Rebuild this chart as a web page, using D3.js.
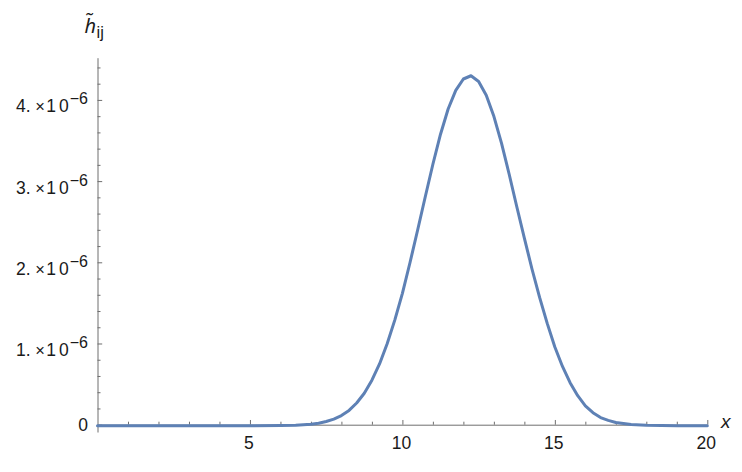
<!DOCTYPE html>
<html>
<head>
<meta charset="utf-8">
<script src="https://cdn.jsdelivr.net/npm/d3@7"></script>
<style>
  html, body { margin: 0; padding: 0; background: #fff; }
  svg { display: block; font-family: "Liberation Sans", Arial, Helvetica, sans-serif; }
</style>
</head>
<body>
<svg id="chart" width="742" height="472"></svg>
<script>
// ---- data (values in units of 1e-6) ----
const xValues = [0, 1, 2, 3, 4, 5, 6, 6.5, 7, 7.25, 7.5, 7.75, 8, 8.25, 8.5, 8.75, 9, 9.25, 9.5, 9.75,
  10, 10.25, 10.5, 10.75, 11, 11.25, 11.5, 11.75, 12, 12.25, 12.5, 12.75, 13, 13.25, 13.5, 13.75,
  14, 14.25, 14.5, 14.75, 15, 15.25, 15.5, 15.75, 16, 16.25, 16.5, 16.75, 17, 17.5, 18, 18.5, 19, 20];
const hValues = [0, 0, 0, 0, 0, 0, 0.002, 0.006, 0.019, 0.031, 0.051, 0.081, 0.125, 0.188, 0.28, 0.40, 0.56, 0.76, 1.01, 1.30,
  1.63, 2.01, 2.41, 2.82, 3.22, 3.59, 3.90, 4.13, 4.27, 4.31, 4.24, 4.07, 3.81, 3.48, 3.10, 2.70,
  2.31, 1.93, 1.58, 1.26, 0.97, 0.73, 0.53, 0.37, 0.245, 0.16, 0.10, 0.065, 0.04, 0.015, 0.005, 0.0015, 0, 0];

const xTickValues = [5, 10, 15, 20];
const xTickLabels = ["5", "10", "15", "20"];
const xMinorTicks = [1, 2, 3, 4, 6, 7, 8, 9, 11, 12, 13, 14, 16, 17, 18, 19];
const yTickValues = [0, 1, 2, 3, 4];
const yTickMantissas = ["0", "1.", "2.", "3.", "4."];
const yTickExponent = "\u22126";
const yMinorTicks = [0.2, 0.4, 0.6, 0.8, 1.2, 1.4, 1.6, 1.8, 2.2, 2.4, 2.6, 2.8, 3.2, 3.4, 3.6, 3.8, 4.2, 4.4];

// ---- layout ----
const svg = d3.select("#chart");
const x = d3.scaleLinear().domain([0, 20]).range([97.5, 707.3]);
const y = d3.scaleLinear().domain([-0.09, 4.52]).range([432, 57.7]);

const axisColor = "#6e6e6e";
const textColor = "#1a1a1a";

// x axis (at y=0)
const gx = svg.append("g").attr("transform", `translate(0,${y(0)})`);
gx.call(d3.axisTop(x).tickValues(xTickValues).tickSize(4.7).tickSizeOuter(0).tickFormat(""));
gx.call(g => g.select(".domain").attr("stroke", axisColor).attr("stroke-width", 1));
gx.selectAll(".tick line").attr("stroke", axisColor);
const gxm = svg.append("g").attr("transform", `translate(0,${y(0)})`);
gxm.call(d3.axisTop(x).tickValues(xMinorTicks).tickSize(3).tickSizeOuter(0).tickFormat(""));
gxm.select(".domain").remove();
gxm.selectAll(".tick line").attr("stroke", axisColor);

// x tick labels
svg.append("g").selectAll("text").data(xTickValues).join("text")
  .attr("x", d => x(d) - 1)
  .attr("y", y(0) + 24.5)
  .attr("text-anchor", "middle")
  .attr("font-size", 17.5)
  .attr("fill", textColor)
  .text((d, i) => xTickLabels[i]);

// y axis (at x=0)
const gy = svg.append("g").attr("transform", `translate(${x(0)},0)`);
gy.call(d3.axisRight(y).tickValues(yTickValues).tickSize(4.7).tickSizeOuter(0).tickFormat(""));
gy.call(g => g.select(".domain").attr("stroke", axisColor).attr("stroke-width", 1));
gy.selectAll(".tick line").attr("stroke", axisColor);
const gym = svg.append("g").attr("transform", `translate(${x(0)},0)`);
gym.call(d3.axisRight(y).tickValues(yMinorTicks).tickSize(3).tickSizeOuter(0).tickFormat(""));
gym.select(".domain").remove();
gym.selectAll(".tick line").attr("stroke", axisColor);

// y tick labels
const yl = svg.append("g").selectAll("text").data(yTickValues).join("text")
  .attr("x", 88)
  .attr("y", d => d === 0 ? y(d) + 6.2 : y(d) + 12.5)
  .attr("text-anchor", "end")
  .attr("font-size", 17.5)
  .attr("fill", textColor);
yl.each(function(d, i) {
  const t = d3.select(this);
  if (d === 0) { t.text(yTickMantissas[i]); return; }
  t.append("tspan").text(yTickMantissas[i]);
  t.append("tspan").attr("dx", 4.5).attr("font-size", 16.5).text("\u00d7");
  t.append("tspan").attr("dx", 1.5).attr("letter-spacing", 3).text("10");
  t.append("tspan").attr("dx", -2).attr("dy", -8).attr("font-size", 16).text(yTickExponent);
});

// curve
const pts = xValues.map((v, i) => [v, hValues[i]]);
svg.append("path")
  .datum(pts)
  .attr("fill", "none")
  .attr("stroke", "#5e81b5")
  .attr("stroke-width", 3)
  .attr("stroke-linejoin", "round")
  .attr("stroke-linecap", "round")
  .attr("transform", "translate(0,1)")
  .attr("d", d3.line().x(d => x(d[0])).y(d => y(d[1])));

// axis labels
svg.append("text")
  .attr("x", 721)
  .attr("y", 428)
  .attr("font-size", 19)
  .attr("font-style", "italic")
  .attr("fill", textColor)
  .text("x");

// y label: h with combining tilde and subscript ij, as one text element
const ylab = svg.append("text")
  .attr("x", 84.5)
  .attr("y", 32.5)
  .attr("font-size", 20)
  .attr("fill", textColor);
ylab.append("tspan").attr("font-style", "italic").attr("font-family", "'Noto Sans', sans-serif").text("h\u0303");
ylab.append("tspan").attr("font-size", 16.5).attr("dx", 0.5).attr("dy", 5).text("ij");
</script>
</body>
</html>
